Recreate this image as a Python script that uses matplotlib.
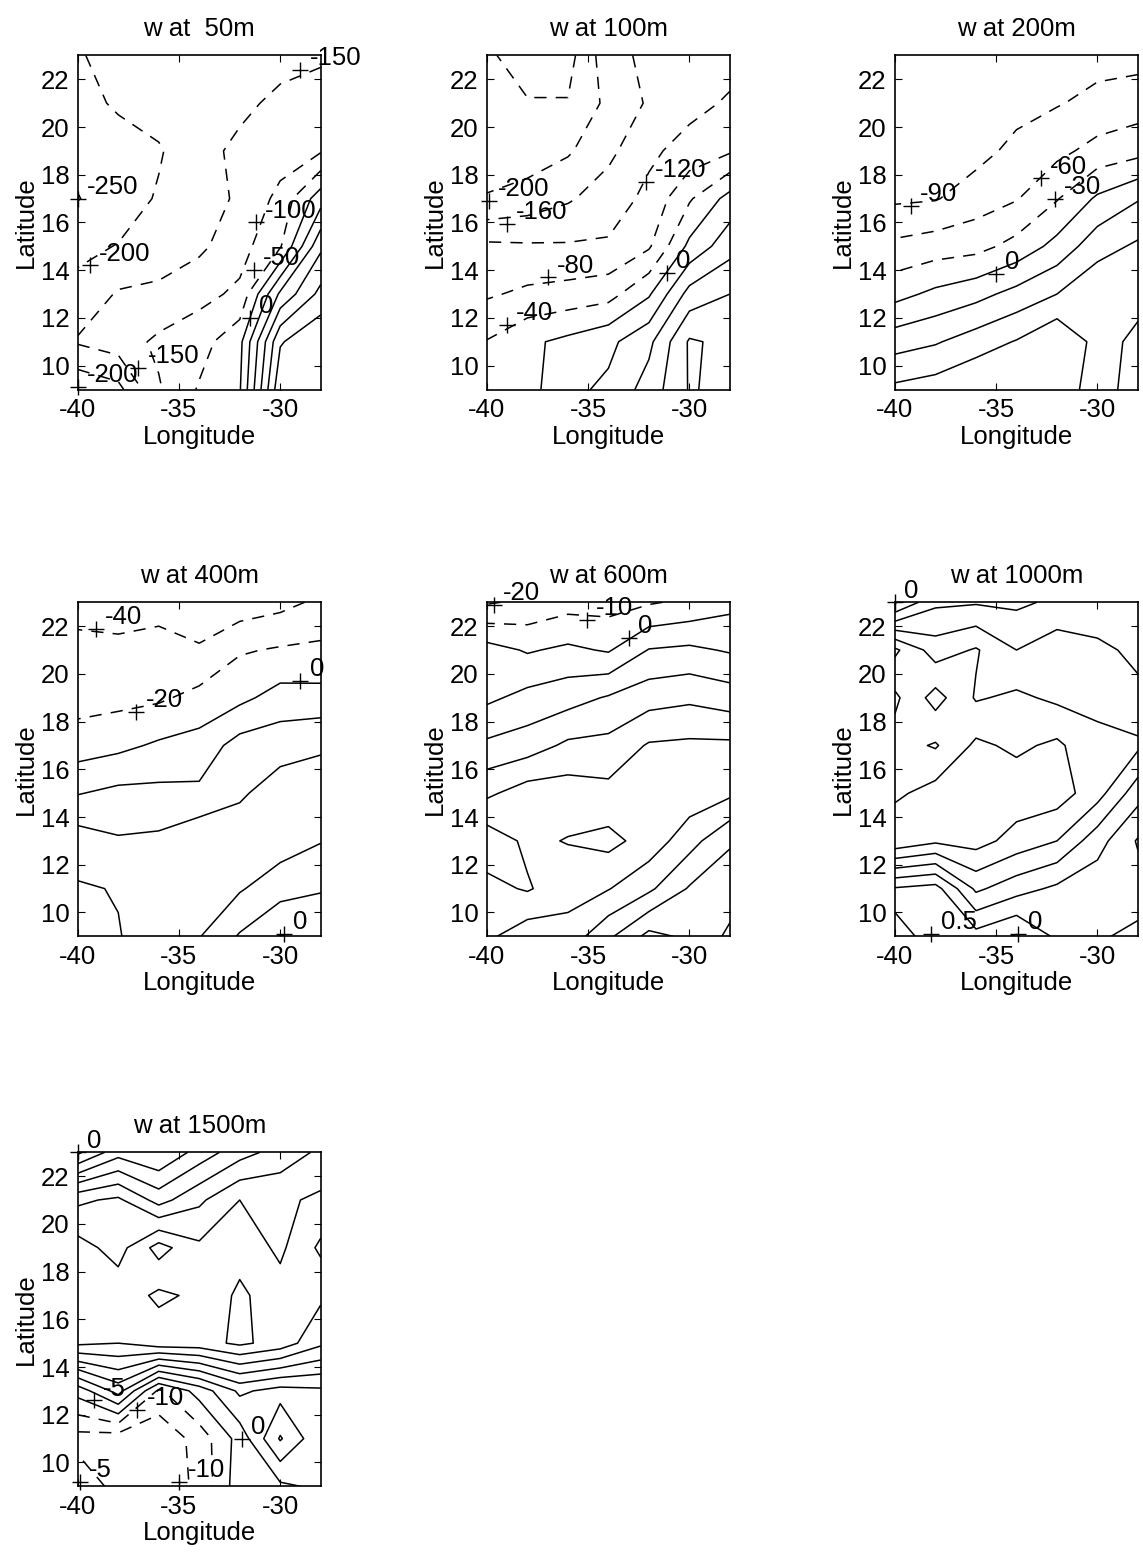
import numpy as np
import matplotlib
matplotlib.use("Agg")
import matplotlib.pyplot as plt

plt.rcParams['font.family'] = ['Liberation Sans', 'DejaVu Sans']
plt.rcParams['axes.unicode_minus'] = False
plt.rcParams['lines.dashed_pattern'] = [8, 6]

# grid of the w fields (rows: lat 9 -> 23, columns: lon -40 -> -28)
lon = [-40, -38, -36, -34, -32, -30, -28]
lat = [9, 11, 13, 15, 17, 19, 21, 23]

w50 = [[-240, -215, -105, -45, -5, 290, 295],
       [-145, -125, -90, -70, -15, 245, 295],
       [-185, -145, -140, -115, -90, 110, 215],
       [-212, -198, -175, -160, -120, -55, 140],
       [-252, -225, -195, -165, -145, -85, 28],
       [-235, -225, -205, -165, -140, -125, -105],
       [-220, -192, -178, -170, -160, -140, -135],
       [-205, -180, -170, -170, -170, -165, -155]]
lev50 = [-250, -200, -150, -100, -50, 0, 50, 100, 150, 200, 250]
lab50 = [(-29.0, 22.4, '-150'), (-40.0, 17.0, '-250'), (-39.4, 14.2, '-200'),
         (-31.2, 16.0, '-100'), (-31.3, 14.0, '-50'), (-31.5, 12.0, '0'),
         (-40.0, 9.1, '-200'), (-37.0, 9.9, '-150')]

w100 = [[-30, -15, 30, 48, 97, 163, 150],
        [-38, -8, 10, 30, 70, 165, 150],
        [-85, -72, -65, -55, -5, 95, 120],
        [-112, -115, -116, -115, -85, 10, 65],
        [-198, -185, -165, -140, -110, -45, 15],
        [-215, -220, -205, -170, -128, -105, -85],
        [-225, -238, -238, -190, -155, -132, -115],
        [-235, -255, -255, -175, -150, -140, -135]]
lev100 = [-240, -200, -160, -120, -80, -40, 0, 40, 80, 120, 160]
lab100 = [(-39.9, 16.9, '-200'), (-39.0, 15.95, '-160'), (-32.15, 17.7, '-120'),
          (-37.0, 13.7, '-80'), (-39.0, 11.7, '-40'), (-31.1, 13.9, '0')]

w200 = [[97, 105, 120, 130, 100, 82, 98],
        [47, 57, 75, 92, 118, 80, 96],
        [-10, 7, 20, 40, 60, 85, 82],
        [-53, -45, -40, -20, 10, 48, 65],
        [-95, -92, -75, -62, -32, 5, 28],
        [-105, -100, -100, -82, -68, -50, -40],
        [-110, -108, -105, -100, -92, -82, -75],
        [-112, -110, -108, -106, -102, -100, -100]]
lev200 = [-90, -60, -30, 0, 30, 60, 90]
lab200 = [(-39.2, 16.7, '-90'), (-32.8, 17.85, '-60'), (-32.1, 17.0, '-30'),
          (-35.0, 13.85, '0')]

w400 = [[30, 39, 50, 41, 18, -1, 10],
        [38, 41, 52, 52, 42, 28, 21],
        [50, 42, 44, 56, 52, 50, 41],
        [19, 25, 25, 24, 37, 50, 48],
        [-10, -5, 3, 8, 28, 32, 38],
        [-28, -26, -23, -14, -5, 8, 7],
        [-37, -36, -35, -38, -22, -18, -16],
        [-44, -48, -45, -52, -52, -46, -36]]
lev400 = [-40, -20, 0, 20, 40]
lab400 = [(-39.1, 21.9, '-40'), (-37.1, 18.4, '-20'), (-29.0, 19.7, '0'),
          (-29.8, 9.1, '0')]

w600 = [[42, 34, 36, 22, 7, 12, 22],
        [47, 51, 44, 40.5, 32, 19, 15],
        [56, 48, 50.5, 53, 46, 34, 21],
        [38, 45, 45, 43, 46, 46, 42],
        [22, 25, 32, 33, 41, 42, 42],
        [8, 13, 16, 21, 26, 28, 25],
        [4, -1, 2, -1, 10.5, 12, 9],
        [-21, -18, -14, -14, -11, -8, -3]]
lev600 = [-20, -10, 0, 10, 20, 30, 40, 50]
lab600 = [(-39.65, 22.9, '-20'), (-35.05, 22.25, '-10'), (-33.0, 21.5, '0')]

w1000 = [[0.55, 0.45, 0.3, -0.05, 0.6, 0.55, 0.4],
         [0.45, 0.3, 1.6, 1.2, 0.9, 0.7, 0.7],
         [2.9, 2.6, 2.7, 2.3, 2.0, 1.2, 0.45],
         [2.4, 2.7, 2.8, 2.8, 2.75, 2.2, 1.2],
         [2.2, 1.95, 2.6, 2.4, 2.6, 2.1, 2.1],
         [1.9, 2.7, 1.95, 2.1, 1.9, 1.9, 1.6],
         [2.6, 1.75, 2.05, 1.5, 1.8, 1.6, 1.4],
         [-0.05, 0.9, 0.95, 0.9, 1.1, 1.2, 1.3]]
lev1000 = [0, 0.5, 1.0, 1.5, 2.0, 2.5, 3.0]
lab1000 = [(-40.0, 23.0, '0'), (-38.2, 9.1, '0.5'), (-33.9, 9.1, '0')]

w1500 = [[-6, -12, -13, -9, 3, 4, 6],
         [-12, -13, -14, -8, 2, 15.5, 6],
         [2, 12, -6, 2, 11, 8, 9],
         [31, 30, 33, 33, 36, 33, 26],
         [30, 33, 29, 31, 36, 32, 31],
         [32, 28, 37, 31, 33, 29, 36],
         [24, 26, 18, 24, 30, 29, 31],
         [-1, 8, 5, 12, 18, 22, 26]]
lev1500 = [-10, -5, 0, 5, 10, 15, 20, 25, 30, 35]
lab1500 = [(-40.0, 23.0, '0'), (-39.2, 12.6, '-5'), (-37.05, 12.2, '-10'),
           (-31.9, 11.0, '0'), (-39.9, 9.2, '-5'), (-35.0, 9.2, '-10')]

panels = [("w at  50m", w50, lev50, lab50),
          ("w at 100m", w100, lev100, lab100),
          ("w at 200m", w200, lev200, lab200),
          ("w at 400m", w400, lev400, lab400),
          ("w at 600m", w600, lev600, lab600),
          ("w at 1000m", w1000, lev1000, lab1000),
          ("w at 1500m", w1500, lev1500, lab1500)]

fig = plt.figure(figsize=(11.43, 15.58), dpi=100)
lefts = [0.068, 0.426, 0.783]
bottoms = [0.750, 0.399, 0.046]
fs = 18.5

for i, (title, w, levels, labels) in enumerate(panels):
    ax = fig.add_axes([lefts[i % 3], bottoms[i // 3], 0.2126, 0.2144])
    styles = ['dashed' if lv < 0 else 'solid' for lv in levels]
    ax.contour(lon, lat, np.array(w), levels=levels, colors='k',
               linewidths=1.1, linestyles=styles)
    # clabel-style marks: a '+' on the line, value written beside it
    for x, y, txt in labels:
        ax.plot(x, y, marker='+', color='k', markersize=11, mew=1.0,
                clip_on=False)
        ax.text(x + 0.45, y + 0.2, txt, fontsize=fs, ha='left',
                va='baseline', clip_on=False)
    ax.set_xlim(-40, -28)
    ax.set_ylim(9, 23)
    ax.set_xticks([-40, -35, -30])
    ax.set_yticks([10, 12, 14, 16, 18, 20, 22])
    ax.tick_params(direction='in', top=True, right=True, length=5,
                   labelsize=fs, pad=6)
    for sp in ax.spines.values():
        sp.set_linewidth(1.2)
    ax.set_title(title, fontsize=fs, pad=14)
    ax.set_xlabel('Longitude', fontsize=fs, labelpad=2)
    ax.set_ylabel('Latitude', fontsize=fs, labelpad=2)

fig.savefig('out.png', dpi=100, facecolor='white')
